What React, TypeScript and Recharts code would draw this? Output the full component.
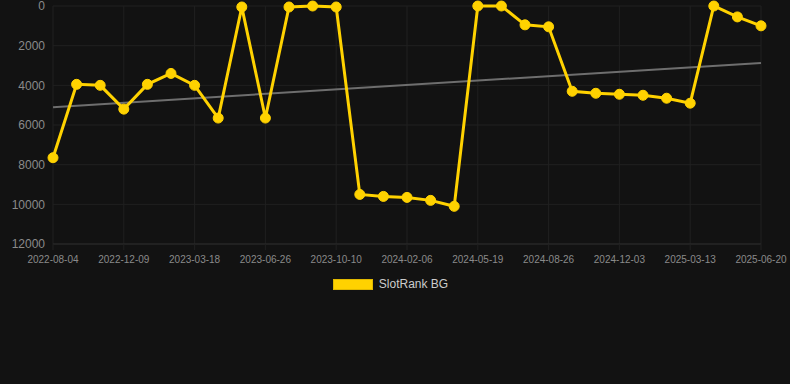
import { LineChart, Line, XAxis, YAxis, CartesianGrid, Legend } from "recharts";

const dates = [
  "2022-08-04", "2022-09-15", "2022-10-27", "2022-12-09", "2023-01-11", "2023-02-14",
  "2023-03-18", "2023-04-21", "2023-05-24", "2023-06-26", "2023-08-03", "2023-09-06",
  "2023-10-10", "2023-11-19", "2023-12-28", "2024-02-06", "2024-03-12", "2024-04-15",
  "2024-05-19", "2024-06-22", "2024-07-24", "2024-08-26", "2024-09-28", "2024-10-31",
  "2024-12-03", "2025-01-05", "2025-02-08", "2025-03-13", "2025-04-15", "2025-05-18",
  "2025-06-20",
];

const rank = [
  7650, 3950, 4000, 5200, 3950, 3400, 4000, 5650, 50, 5650, 50, 0,
  50, 9500, 9600, 9650, 9800, 10100, 0, 0, 950, 1050, 4300, 4400,
  4450, 4500, 4650, 4900, 0, 550, 1000,
];

// trend line end values
const trendEnds = [5100, 2870];

const yTicks = [0, 2000, 4000, 6000, 8000, 10000, 12000];

const data = dates.map((date, i) => ({
  date,
  rank: rank[i],
  trend: i === 0 ? trendEnds[0] : i === dates.length - 1 ? trendEnds[1] : null,
}));

const GOLD = "#ffd200";
const GRID = "#202020";

function LegendBox() {
  return (
    <div style={{ display: "flex", justifyContent: "center", alignItems: "center", gap: 6, paddingRight: 9 }}>
      <span style={{ display: "inline-block", width: 38, height: 9, background: GOLD, border: "1px solid #e0b800" }} />
      <span style={{ fontSize: 12, color: "#cccccc" }}>SlotRank BG</span>
    </div>
  );
}

export default function App() {
  return (
    <div style={{ position: "fixed", left: 0, top: 0, width: 790, height: 384, background: "#121212", fontFamily: "Arial, 'Liberation Sans', sans-serif" }}>
      <LineChart width={790} height={384} data={data} margin={{ top: 6, right: 29, left: 0, bottom: 96 }}>
        <CartesianGrid stroke={GRID} strokeWidth={1} />
        <XAxis
          dataKey="date"
          interval={2}
          tick={{ fontSize: 10, fill: "#8a8a8a" }}
          tickLine={{ stroke: GRID }}
          axisLine={{ stroke: "#2b2b2b" }}
          tickSize={6}
          tickMargin={6}
          height={30}
        />
        <YAxis
          domain={[0, 12000]}
          ticks={yTicks}
          interval={0}
          reversed
          width={53}
          tick={{ fontSize: 12, fill: "#8a8a8a" }}
          tickLine={false}
          axisLine={false}
        />
        <Line dataKey="trend" stroke="#6e6e6e" strokeWidth={2} dot={false} connectNulls isAnimationActive={false} legendType="none" />
        <Line dataKey="rank" stroke={GOLD} strokeWidth={3} dot={{ r: 5, fill: GOLD, stroke: GOLD, strokeWidth: 1 }} activeDot={false} isAnimationActive={false} />
        <Legend content={() => <LegendBox />} wrapperStyle={{ top: 277, left: 0, width: 790, height: 14 }} />
      </LineChart>
    </div>
  );
}
